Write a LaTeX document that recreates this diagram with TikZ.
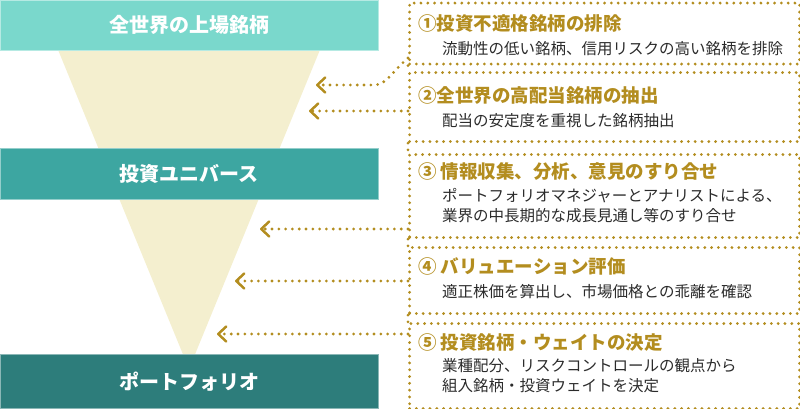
\documentclass[tikz,border=0pt]{standalone}
\usepackage{fontspec}
\newfontfamily\jp{Noto Sans CJK JP}
\usetikzlibrary{arrows.meta}
\definecolor{barA}{HTML}{7AD8CC}
\definecolor{barB}{HTML}{3DA6A1}
\definecolor{barC}{HTML}{2D7D7B}
\definecolor{funnelc}{HTML}{F4EFCF}
\definecolor{gold}{HTML}{B38D1F}
\definecolor{bodytxt}{HTML}{2B2B2B}
\begin{document}
\begin{tikzpicture}[x=1pt,y=-1pt,
  bar/.style={fill=#1, draw=#1!55!white, line width=0.8pt, minimum width=378pt, inner sep=0pt,
    text=white, font=\jp\bfseries\fontsize{20}{22}\selectfont},
  dots/.style={draw=gold, line width=3.1pt, line cap=round, dash pattern=on 0pt off 6.8pt},
  rbox/.style={dots, minimum width=390pt, inner sep=0pt, anchor=north west},
  head/.style={anchor=west, inner sep=0pt, text=gold, font=\jp\bfseries\fontsize{18.5}{20}\selectfont},
  bodyt/.style={anchor=west, inner sep=0pt, text=bodytxt, font=\jp\fontsize{15.5}{20}\selectfont},
  conn/.style={dots, -{Straight Barb[length=8pt,width=15pt,line width=2.5pt,round]}}
]
\useasboundingbox (0,0) rectangle (800,409);
% funnel
\fill[funnelc] (54,40) -- (324,40) -- (189,369) -- cycle;
% bars
\node[bar=barA, minimum height=50pt] (top) at (189,25) {全世界の上場銘柄};
\node[bar=barB, minimum height=51pt] (mid) at (189,173.5) {投資ユニバース};
\node[bar=barC, minimum height=54pt] (bot) at (189,381.5) {ポートフォリオ};
% right boxes
\node[rbox, minimum height=61pt] (b1) at (408,1.5) {};
\node[rbox, minimum height=69pt] (b2) at (408,71) {};
\node[rbox, minimum height=83pt] (b3) at (408,153) {};
\node[rbox, minimum height=66pt] (b4) at (408,246) {};
\node[rbox, minimum height=85pt] (b5) at (408,322) {};
\draw[dots] (b1.south west) -- (b2.north west);
\draw[dots] (b2.south west) -- (b3.north west);
\draw[dots] (b3.south west) -- (b4.north west);
\draw[dots] (b4.south west) -- (b5.north west);
% texts
\node[head] (h1) at (418,23.5) {①投資不適格銘柄の排除};
\node[bodyt] (t1) at (442,49) {流動性の低い銘柄、信用リスクの高い銘柄を排除};
\node[head] (h2) at (418,95) {②全世界の高配当銘柄の抽出};
\node[bodyt] (t2) at (442,121) {配当の安定度を重視した銘柄抽出};
\node[head] (h3) at (418,172) {③ 情報収集、分析、意見のすり合せ};
\node[bodyt] (t3a) at (442,196) {ポートフォリオマネジャーとアナリストによる、};
\node[bodyt] (t3b) at (442,216) {業界の中長期的な成長見通し等のすり合せ};
\node[head] (h4) at (418,266) {④ バリュエーション評価};
\node[bodyt] (t4) at (442,292) {適正株価を算出し、市場価格との乖離を確認};
\node[head] (h5) at (418,343) {⑤ 投資銘柄・ウェイトの決定};
\node[bodyt] (t5a) at (442,366) {業種配分、リスクコントロールの観点から};
\node[bodyt] (t5b) at (442,386) {組入銘柄・投資ウェイトを決定};
% connectors
\coordinate (s1) at (408,58);
\coordinate (e1) at (316,85);
\coordinate (s2) at (408,111);
\coordinate (e2) at (309,111);
\coordinate (s3) at (408,229);
\coordinate (e3) at (260,229);
\coordinate (s4) at (408,281);
\coordinate (e4) at (235,281);
\coordinate (s5) at (408,334);
\coordinate (e5) at (217,334);
\draw[conn] (s1) .. controls (390,74) and (386,85) .. (374,85) -- (e1);
\draw[conn] (s2) -- (e2);
\draw[conn] (s3) -- (e3);
\draw[conn] (s4) -- (e4);
\draw[conn] (s5) -- (e5);
\end{tikzpicture}
\end{document}
